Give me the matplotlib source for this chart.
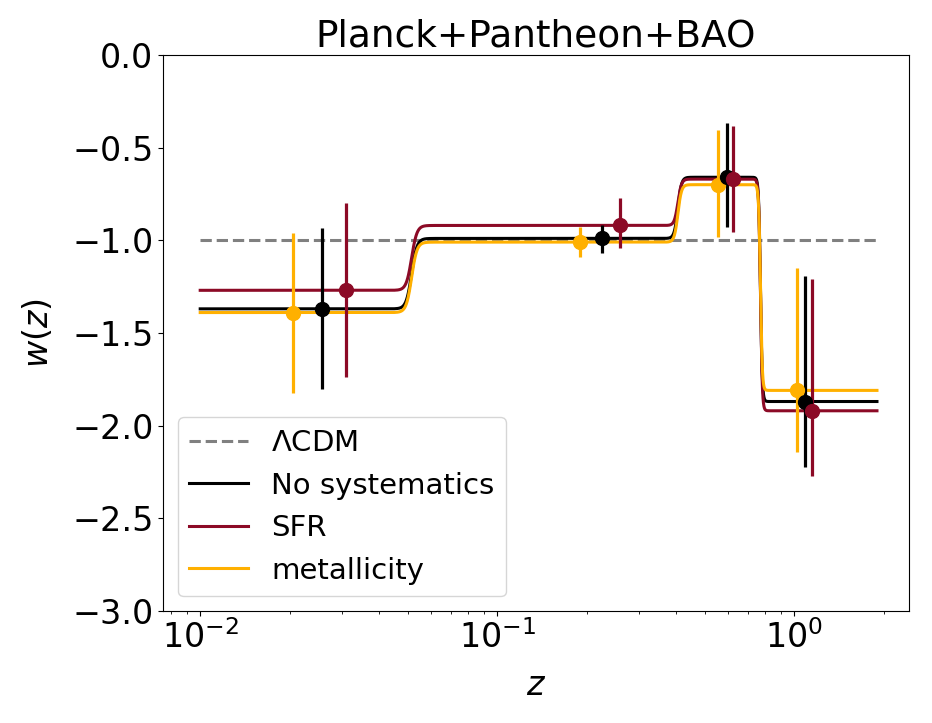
import numpy as np
import matplotlib
matplotlib.use('Agg')
import matplotlib.pyplot as plt

# bin values of w(z) and transition redshifts
z_edges = [0.0515, 0.406, 0.77]
widths = [0.018, 0.012, 0.006]   # transition widths in log10 z

w_nosys = [-1.37, -0.99, -0.66, -1.87]
w_sfr = [-1.27, -0.92, -0.67, -1.92]
w_met = [-1.39, -1.01, -0.70, -1.81]

# points with (asymmetric) errors
z_nosys = [0.0257, 0.225, 0.592, 1.089]
z_sfr = [0.0309, 0.259, 0.624, 1.152]
z_met = [0.0206, 0.190, 0.552, 1.023]

lo_nosys = [0.43, 0.08, 0.27, 0.355]
hi_nosys = [0.435, 0.07, 0.295, 0.675]
lo_sfr = [0.47, 0.122, 0.284, 0.352]
hi_sfr = [0.47, 0.148, 0.287, 0.71]
lo_met = [0.435, 0.08, 0.283, 0.33]
hi_met = [0.43, 0.08, 0.295, 0.66]

z_min, z_max = 0.01, 1.9

c_nosys = 'black'
c_sfr = '#8c0a26'
c_met = '#ffb000'


def wz(z, w):
    out = np.full_like(z, w[0])
    for i in range(len(z_edges)):
        step = 0.5 * (1 + np.tanh((np.log10(z) - np.log10(z_edges[i])) / widths[i]))
        out += (w[i + 1] - w[i]) * step
    return out


z = np.logspace(np.log10(z_min), np.log10(z_max), 3000)

fig = plt.figure(figsize=(9.32, 7.23), dpi=100)
ax = fig.add_axes([0.175, 0.155, 0.80, 0.769])

ax.plot([z_min, z_max], [-1, -1], ls='--', color='gray', lw=2.2, label=r'$\Lambda$CDM')
ax.plot(z, wz(z, w_nosys), color=c_nosys, lw=2.2, label='No systematics')
ax.plot(z, wz(z, w_sfr), color=c_sfr, lw=2.2, label='SFR')
ax.plot(z, wz(z, w_met), color=c_met, lw=2.2, label='metallicity')

ax.errorbar(z_met, w_met, yerr=[lo_met, hi_met], fmt='o', color=c_met, ms=10, elinewidth=2.3)
ax.errorbar(z_nosys, w_nosys, yerr=[lo_nosys, hi_nosys], fmt='o', color=c_nosys, ms=10, elinewidth=2.3)
ax.errorbar(z_sfr, w_sfr, yerr=[lo_sfr, hi_sfr], fmt='o', color=c_sfr, ms=10, elinewidth=2.3)

ax.set_xscale('log')
ax.set_xlim(0.0075, 2.43)
ax.set_ylim(-3, 0)
ax.set_xlabel(r'$z$', fontsize=24, labelpad=10)
ax.set_ylabel(r'$w(z)$', fontsize=24, labelpad=12)
ax.set_title('Planck+Pantheon+BAO', fontsize=27)
ax.tick_params(axis='both', which='major', labelsize=24)
ax.legend(loc='lower left', fontsize=21)

fig.savefig('out.png', dpi=100)
